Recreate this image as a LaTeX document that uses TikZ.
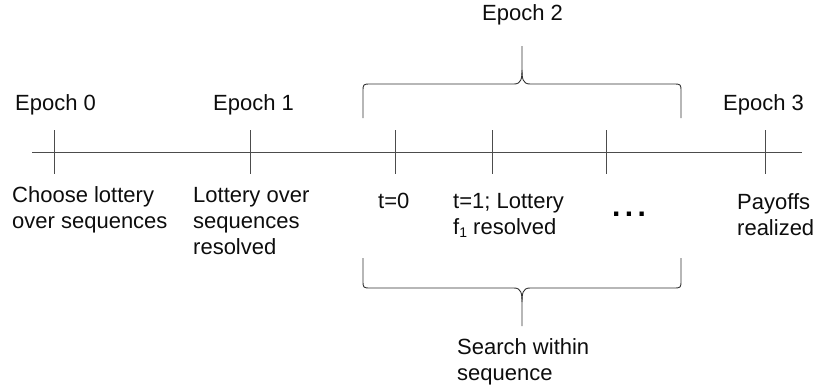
\documentclass[tikz,border=0pt]{standalone}
\usepackage{fontspec}
\setmainfont{Liberation Sans}
\begin{document}
\begin{tikzpicture}[x=1pt,y=-1pt,
  lbl/.style={anchor=base west, inner sep=0pt, align=left,
              font=\fontsize{22}{26}\selectfont, text=black!95},
  axis/.style={draw=black!70, line width=0.9pt},
  brace/.style={draw=black!80, line width=0.9pt, line join=round}]
\useasboundingbox (0,0) rectangle (819,388);

% time axis
\coordinate (axL) at (32,152);
\coordinate (axR) at (802,152);
\draw[axis] (axL) -- (axR);

% tick marks
\foreach \n/\x in {e0/54, e1/250, t0/395, t1/492, tn/606, e3/765} {
  \coordinate (\n top) at (\x,130);
  \coordinate (\n bot) at (\x,174);
  \draw[axis] (\n top) -- (\n bot);
}

% epoch labels above the axis
\node[lbl] (ep0) at (15,110) {Epoch 0};
\node[lbl] (ep1) at (213,110) {Epoch 1};
\node[lbl] (ep2) at (482,20) {Epoch 2};
\node[lbl] (ep3) at (723,110) {Epoch 3};

% event labels below the axis (anchored on the last line's baseline)
\node[lbl] (choose) at (12,228) {Choose lottery\\over sequences};
\node[lbl] (resolve) at (193,254) {Lottery over\\sequences\\resolved};
\node[lbl] (t0) at (378,208) {t=0};
\node[lbl] (t1) at (453,234) {t=1; Lottery\\f\raisebox{-0.3ex}{\fontsize{14}{14}\selectfont 1} resolved};
\node[anchor=base, inner sep=0pt, font=\fontsize{30}{30}\bfseries] (dots) at (629,216)
  {.\kern4.5pt.\kern4.5pt.};
\node[lbl] (pay) at (737,235) {Payoffs\\realized};
\node[lbl] (search) at (457,380) {Search within\\sequence};

% brace over epoch 2
\coordinate (ubL) at (363,118);
\coordinate (ubR) at (681,118);
\coordinate (ubTip) at (522,46);
\draw[brace] (ubL) -- (363,92) .. controls (363,84) .. (371,84) -- (514,84)
  .. controls (521,84) and (522,79) .. (522,70) -- (ubTip);
\draw[brace] (ubR) -- (681,92) .. controls (681,84) .. (673,84) -- (530,84)
  .. controls (523,84) and (522,79) .. (522,70);

% brace under the search period
\coordinate (lbL) at (363,258);
\coordinate (lbR) at (681,258);
\coordinate (lbTip) at (522,326);
\draw[brace] (lbL) -- (363,280) .. controls (363,288) .. (371,288) -- (514,288)
  .. controls (521,288) and (522,293) .. (522,302) -- (lbTip);
\draw[brace] (lbR) -- (681,280) .. controls (681,288) .. (673,288) -- (530,288)
  .. controls (523,288) and (522,293) .. (522,302);
\end{tikzpicture}
\end{document}
